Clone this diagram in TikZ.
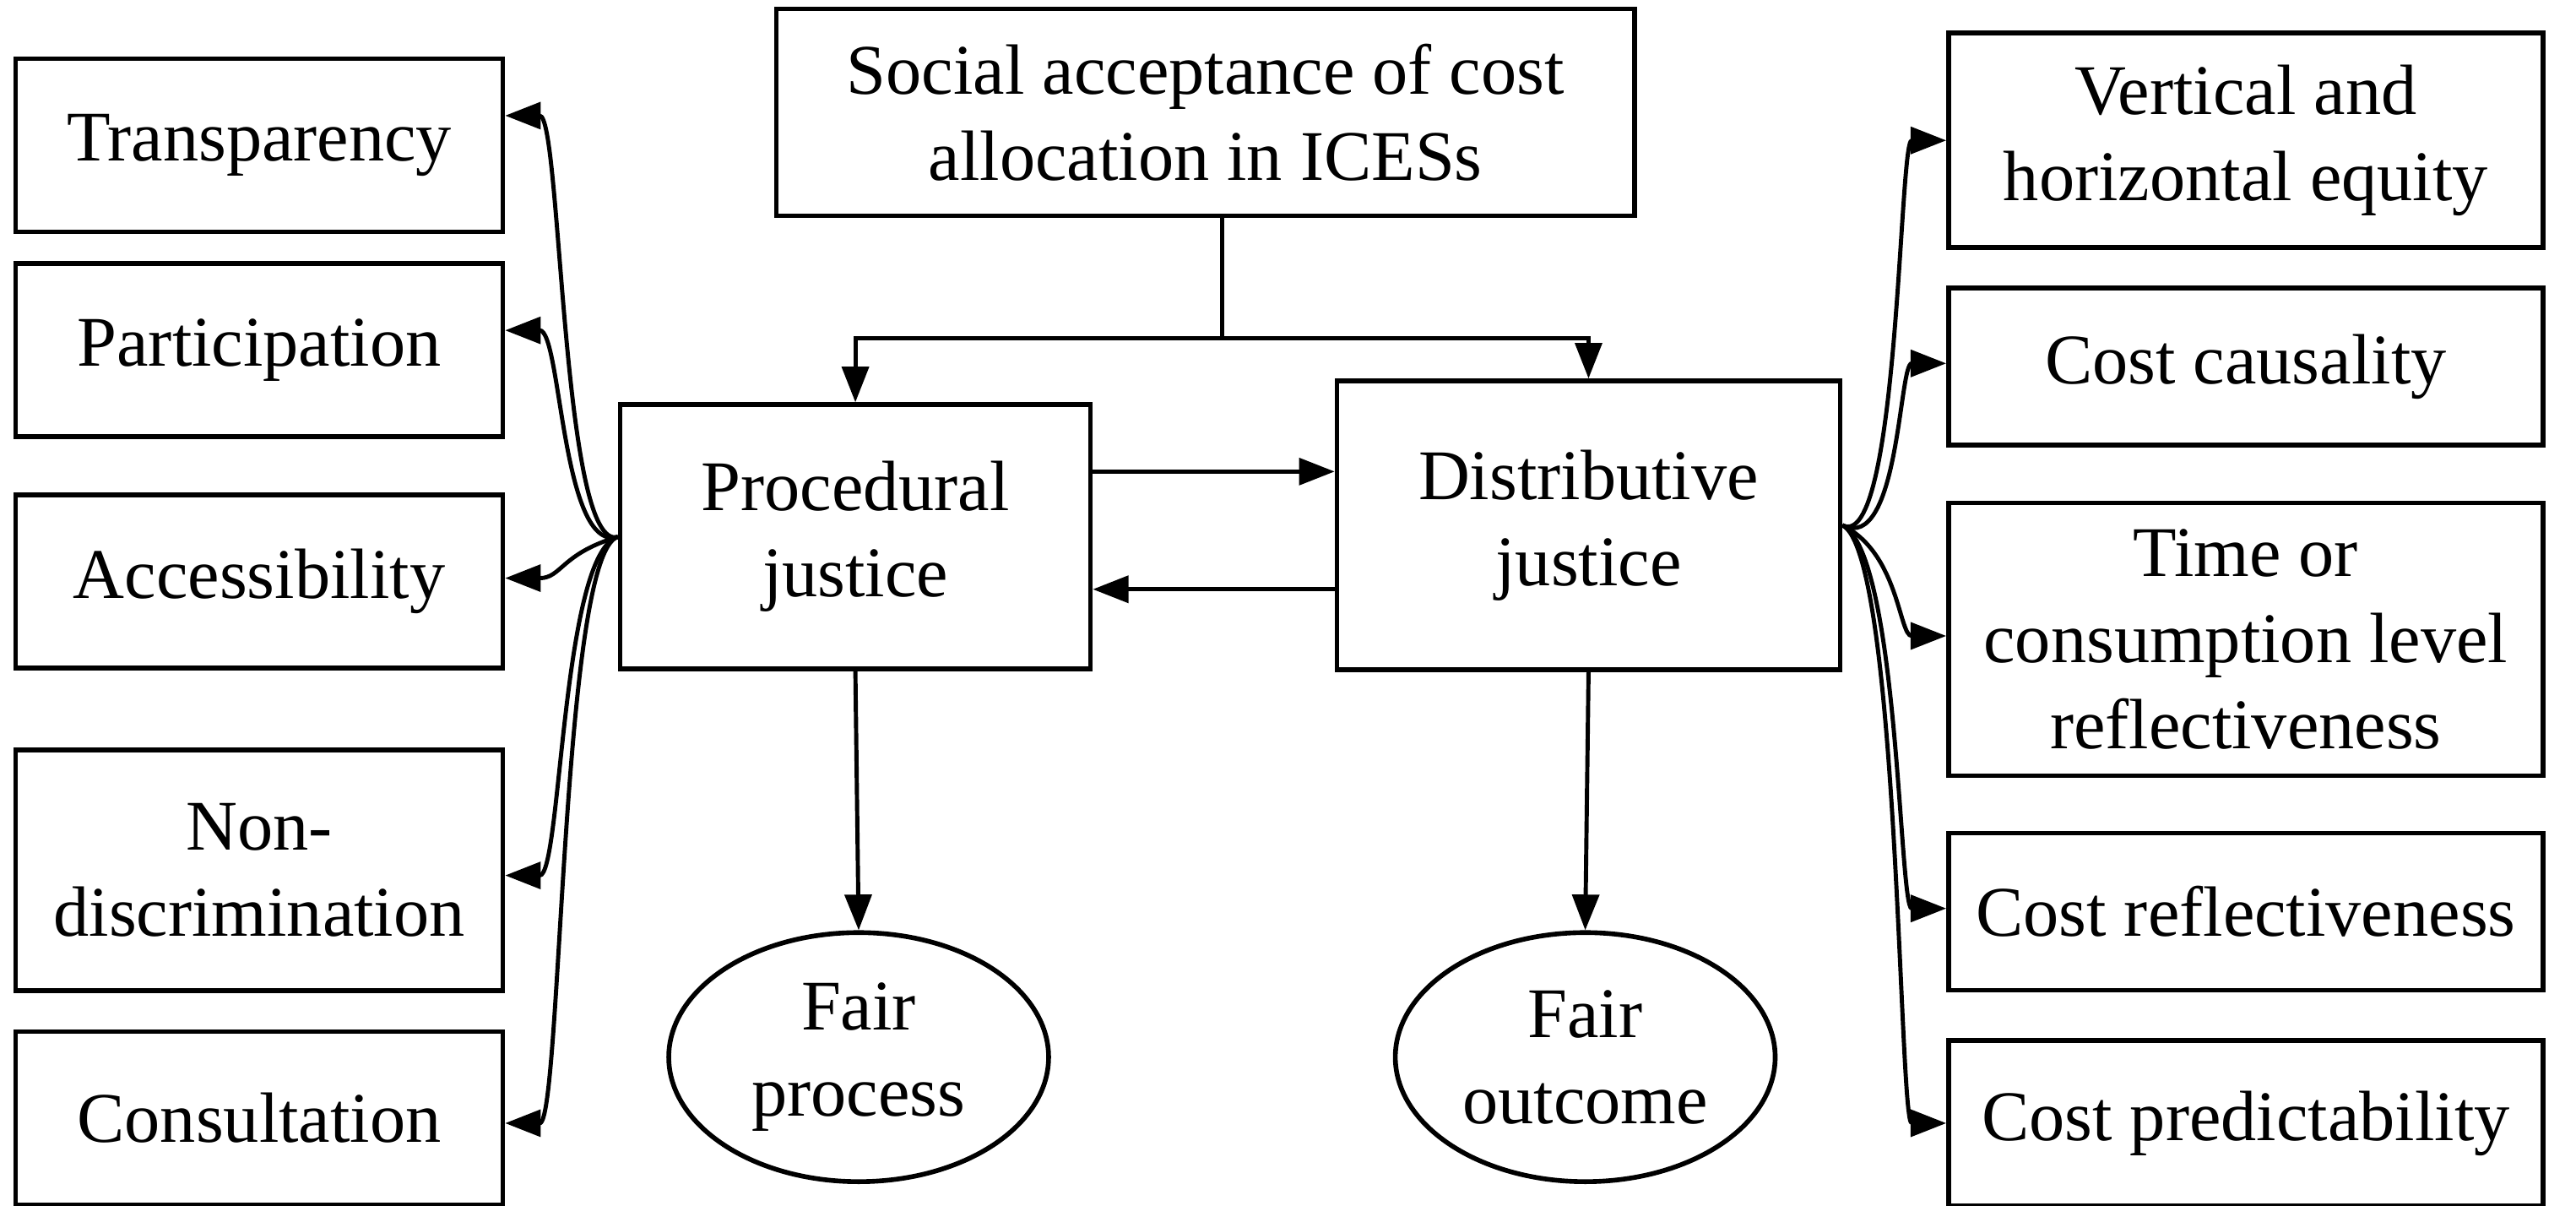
\documentclass[tikz,border=0pt]{standalone}
\usepackage{fontspec}
\setmainfont{Liberation Serif}
\usetikzlibrary{arrows.meta,shapes.geometric}
\begin{document}
\begin{tikzpicture}[x=0.019558cm,y=-0.019558cm,
  bx/.style={draw,line width=1.6pt,align=center,font=\fontsize{24}{29}\selectfont,inner sep=0pt},
  el/.style={draw,line width=1.6pt,ellipse,align=center,font=\fontsize{24}{29}\selectfont,inner sep=0pt},
  ar/.style={line width=1.4pt,-{Triangle[length=12pt,width=9pt]}},
  ln/.style={line width=1.4pt}]
\useasboundingbox (0,0) rectangle (1560,730);
\fill[white] (0,0) rectangle (1560,730);
% left boxes
\node[bx,minimum width=5.77cm,minimum height=2.05cm] (t) at (157,88) {Transparency};
\node[bx,minimum width=5.77cm,minimum height=2.05cm] (p) at (157,212) {Participation};
\node[bx,minimum width=5.77cm,minimum height=2.05cm] (a) at (157,352) {Accessibility};
\node[bx,minimum width=5.77cm,minimum height=2.85cm] (n) at (157,527) {Non-\\discrimination};
\node[bx,minimum width=5.77cm,minimum height=2.05cm] (c) at (157,677) {Consultation};
% top
\node[bx,minimum width=10.17cm,minimum height=2.45cm] (s) at (730,68) {Social acceptance of cost\\allocation in ICESs};
\node[bx,minimum width=5.57cm,minimum height=3.13cm] (pj) at (518,325) {Procedural\\justice};
\node[bx,minimum width=5.96cm,minimum height=3.42cm] (dj) at (962,318) {Distributive\\justice};
\node[el,minimum width=4.5cm,minimum height=2.95cm] (fp) at (520,640) {Fair\\process};
\node[el,minimum width=4.5cm,minimum height=2.95cm] (fo) at (960,640) {Fair\\outcome};
% right boxes
\node[bx,minimum width=7.04cm,minimum height=2.54cm] (r1) at (1360,85) {Vertical and\\horizontal equity};
\node[bx,minimum width=7.04cm,minimum height=1.86cm] (r2) at (1360,222) {Cost causality};
\node[bx,minimum width=7.04cm,minimum height=3.23cm] (r3) at (1360,387) {Time or\\consumption level\\reflectiveness};
\node[bx,minimum width=7.04cm,minimum height=1.86cm] (r4) at (1360,552) {Cost reflectiveness};
\node[bx,minimum width=7.04cm,minimum height=1.96cm] (r5) at (1360,680) {Cost predictability};
% connectors
\coordinate (j) at (740,205);
\draw[ln] (s.south -| j) -- (j);
\draw[ar] (j) -| (pj.north);
\draw[ar] (j) -| (dj.north);
\draw[ar] ([yshift=-0.82cm]pj.north east) -- ([yshift=-0.82cm]pj.north east -| dj.west);
\draw[ar] ([yshift=0.98cm]dj.south west) -- ([yshift=0.98cm]dj.south west -| pj.east);
\draw[ar] (pj.south) -- (fp.north);
\draw[ar] (dj.south) -- (fo.north);
\coordinate (L) at (pj.west);
\foreach \b/\y in {t/70,p/200,a/350,n/530,c/680}{
  \draw[ar] (L) .. controls (340,335) and (340,\y) .. (\b.east |- 0,\y);}
\coordinate (R) at (dj.east);
\foreach \b/\y in {r1/85,r2/220,r3/385,r4/550,r5/680}{
  \draw[ar] (R) .. controls (1150,335) and (1150,\y) .. (\b.west |- 0,\y);}
\end{tikzpicture}
\end{document}
